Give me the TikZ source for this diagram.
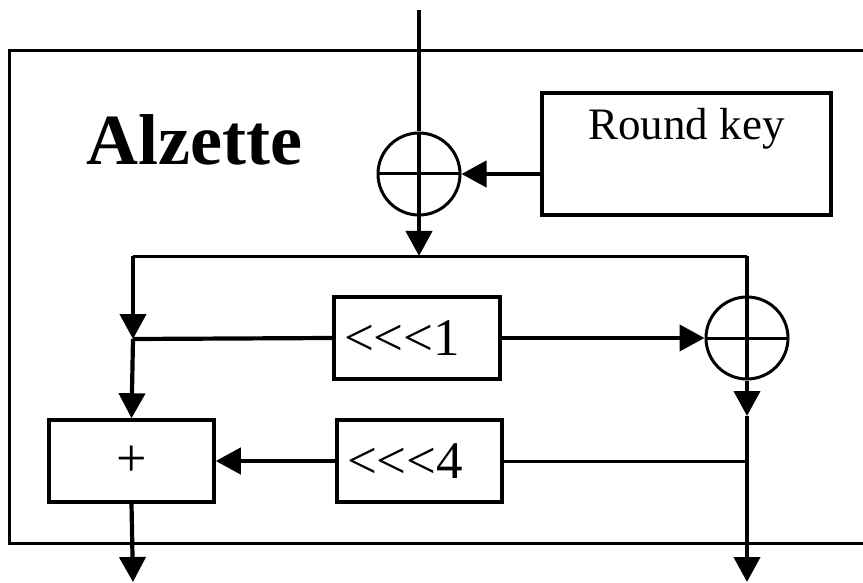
\documentclass[tikz,border=0pt]{standalone}
\usepackage{fontspec}
\setmainfont{Liberation Serif}[Ligatures=TeXOff]
\usetikzlibrary{arrows.meta}

\begin{document}
\begin{tikzpicture}[x=1pt,y=-1pt,
    thn/.style={line width=3pt},
    thk/.style={line width=4.2pt},
    arr/.style={thk,-{Triangle[length=25pt,width=26pt]}},
    blk/.style={draw,line width=3.5pt,rectangle,inner sep=0pt,
      minimum width=165pt,minimum height=82pt},
    xor/.style={draw,thn,circle,inner sep=0pt,minimum size=82pt,
      path picture={
        \draw[thn] (path picture bounding box.west) -- (path picture bounding box.east);
        \draw[thk] (path picture bounding box.north) -- (path picture bounding box.south);}}]
  \useasboundingbox (0,0) rectangle (863,583);
  \draw[thn] (863,51) -- (9,51) -- (9,543) -- (863,543);
  \node[anchor=base west,font=\bfseries\fontsize{72}{80}\selectfont,inner sep=0pt] (ttl) at (86,165) {Alzette};
  \node[xor] (xor1) at (419,174) {};
  \node[xor] (xor2) at (747,338) {};
  \node[blk,minimum width=289pt,minimum height=122pt,text height=32pt,text depth=60pt,
    font=\fontsize{45}{50}\selectfont] (key) at (686.5,154) {Round key};
  \node[blk,minimum width=166pt,text width=146pt,align=left,
    font=\fontsize{53}{58}\selectfont] (rot1) at (417,338) {<<<1};
  \node[blk,text width=145pt,align=left,
    font=\fontsize{53}{58}\selectfont] (rot4) at (419.5,461) {<<<4};
  \node[blk,font=\fontsize{54}{58}\selectfont] (add) at (131.5,461) {+};
  \coordinate (in) at (419,10);
  \coordinate (spl) at (419,256);
  \coordinate (lft) at (133,256);
  \coordinate (rgt) at (747,256);
  \coordinate (tap) at (133,339);
  \coordinate (dn) at (747,416);
  \coordinate (out1) at (133,582);
  \coordinate (out2) at (747,582);
  \draw[thk] (in) -- (xor1.north);
  \draw[arr] (xor1.south) -- (spl);
  \draw[arr] (key.west |- xor1.east) -- (xor1.east);
  \draw[thn] (lft) -- (rgt);
  \draw[arr] (lft) -- (tap);
  \draw[arr] (tap) -- (add.north);
  \draw[thk] (tap) -- (rot1.west);
  \draw[arr] (rot1.east) -- (xor2.west);
  \draw[thk] (rgt) -- (xor2.north);
  \draw[arr] (xor2.south) -- (dn);
  \draw[arr] (dn) -- (out2);
  \draw[thn] (xor2 |- rot4.east) -- (rot4.east);
  \draw[arr] (rot4.west) -- (add.east);
  \draw[arr] (add.south) -- (out1);
\end{tikzpicture}
\end{document}
